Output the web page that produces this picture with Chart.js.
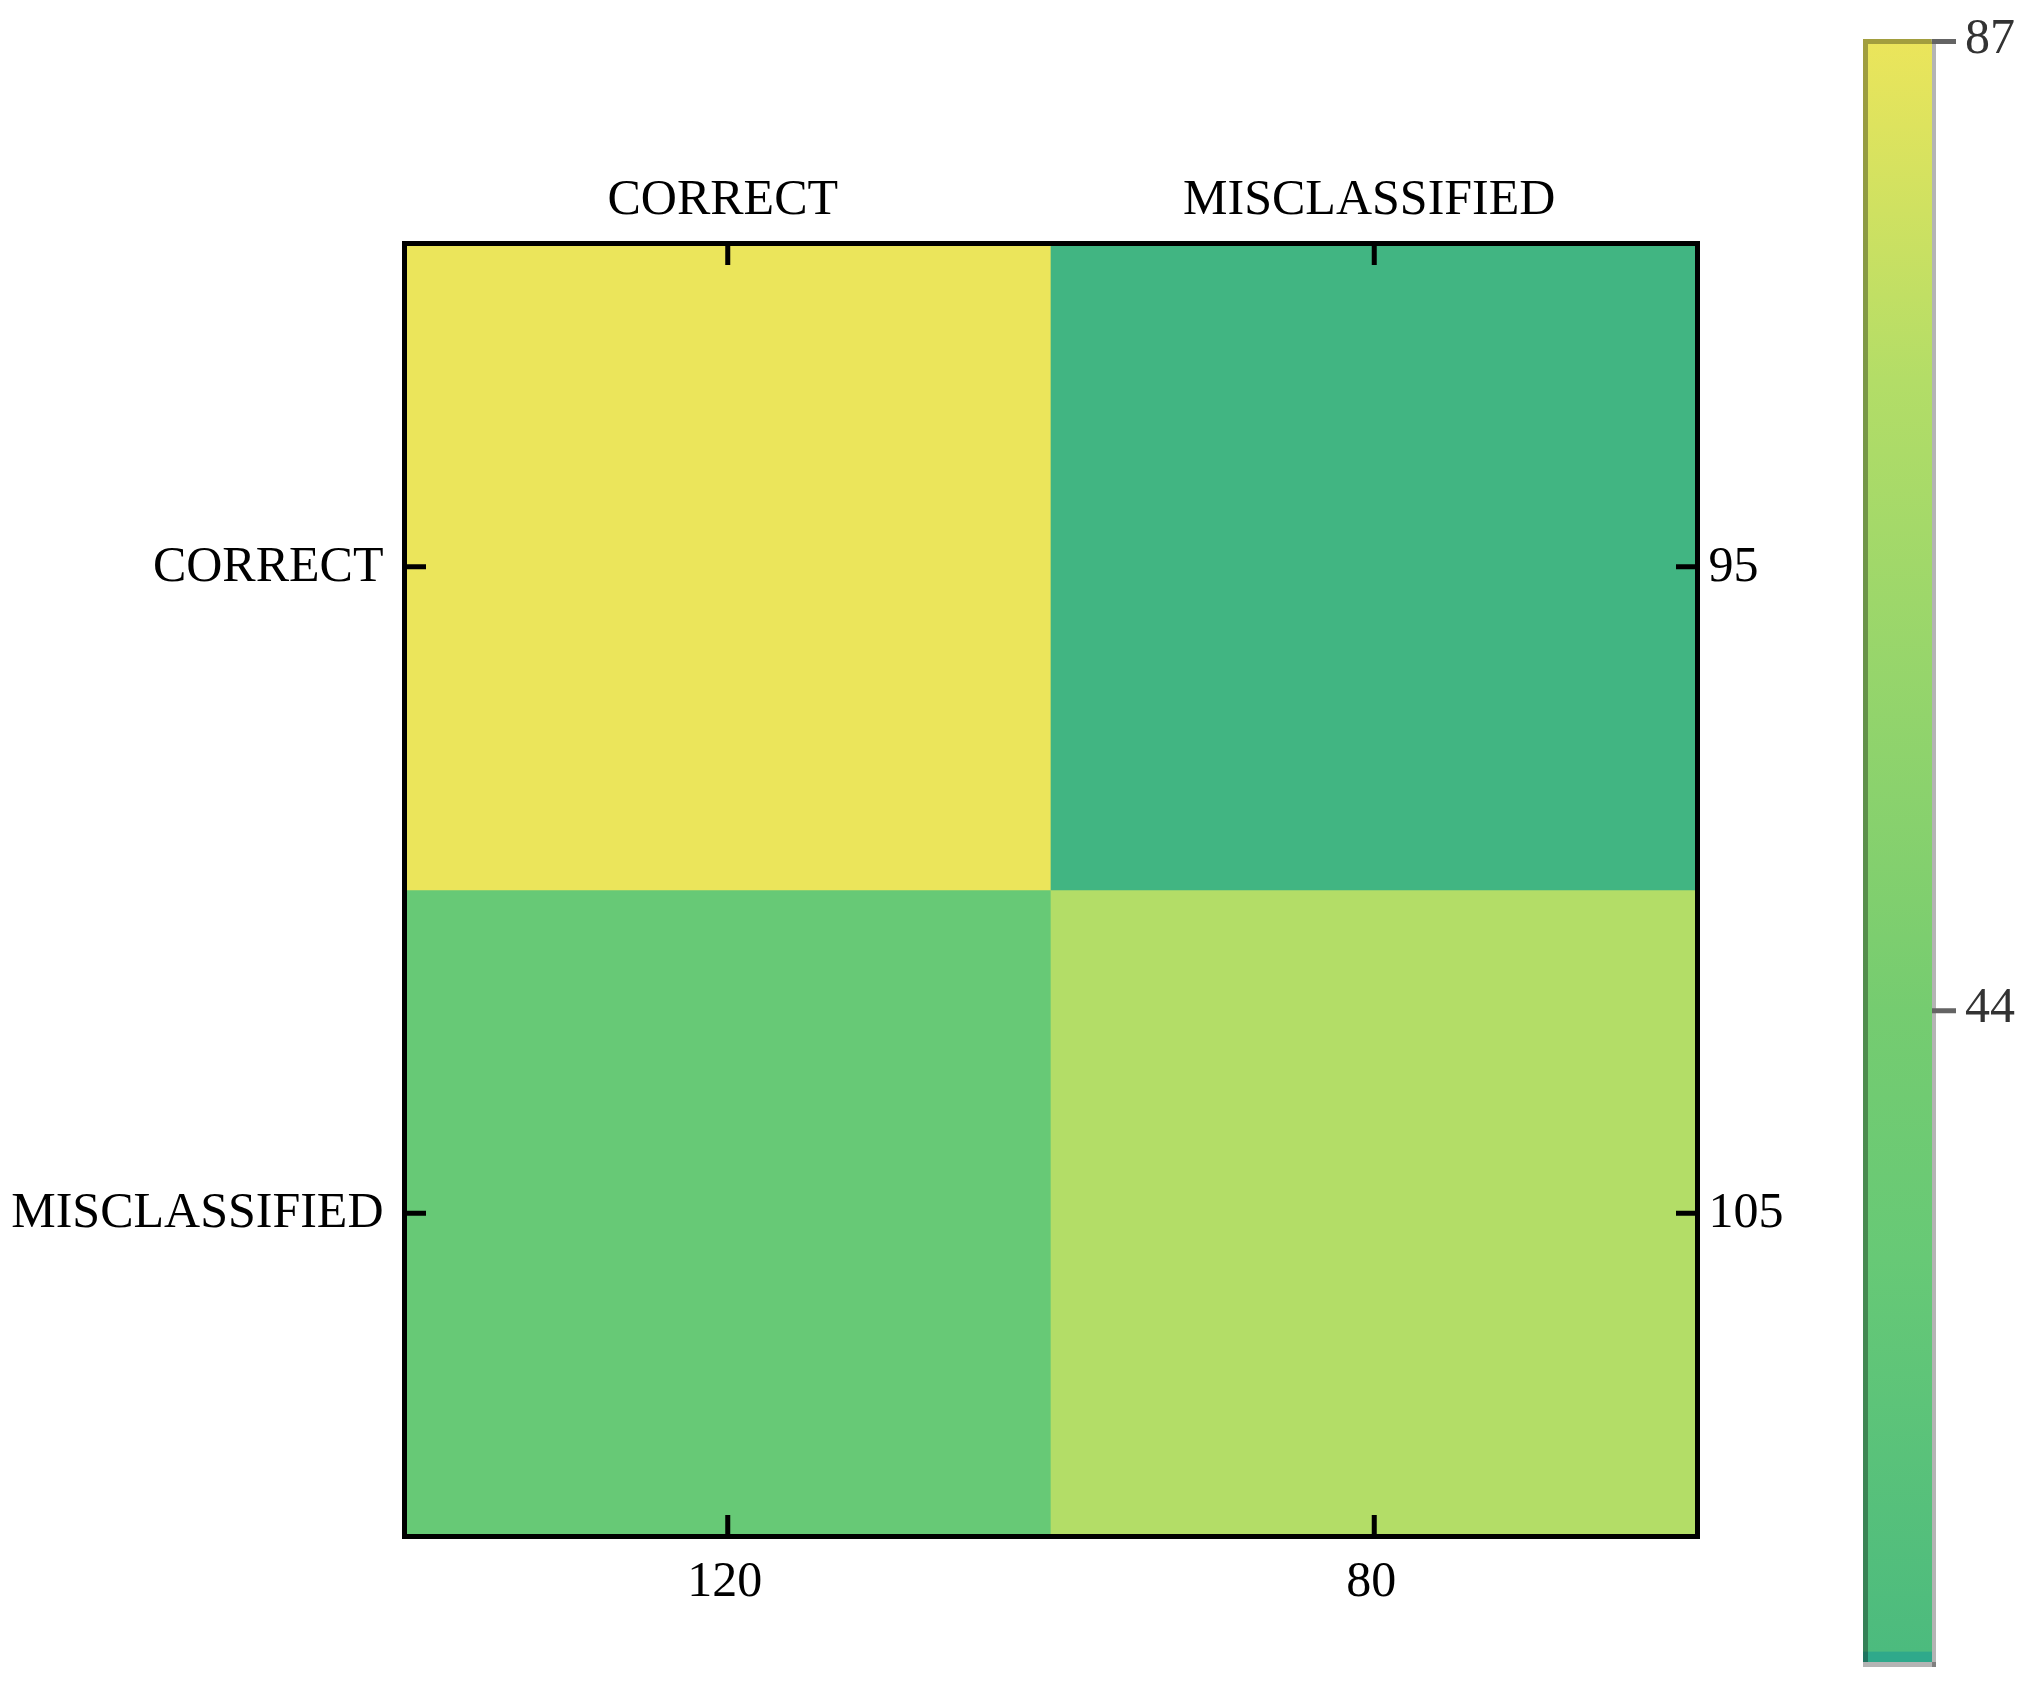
<!DOCTYPE html>
<html>
<head>
<meta charset="utf-8">
<script src="https://cdn.jsdelivr.net/npm/chart.js@4.4.1/dist/chart.umd.min.js"></script>
<style>
html, body { margin: 0; padding: 0; background: #fff; width: 2034px; height: 1692px; overflow: hidden; }
canvas { position: absolute; top: 0; }
</style>
</head>
<body>
<canvas id="heat" width="1840" height="1692" style="left:0;width:1840px;height:1692px"></canvas>
<canvas id="cbar" width="194" height="1692" style="left:1840px;width:194px;height:1692px"></canvas>
<script>
// ---------------- data ----------------
const colLabels = ['CORRECT', 'MISCLASSIFIED'];
const rowLabels = ['CORRECT', 'MISCLASSIFIED'];
const rowCorrectValues = [87, 8];
const rowMisclassifiedValues = [33, 72];
const rowTotals = ['95', '105'];
const colTotals = ['120', '80'];
const colorbarMin = 15;
const colorbarMax = 87;
const colorbarTicks = [44, 87];

// ---------------- style ----------------
const cmapStops = [
  [8, '#41b582'],
  [33, '#67c976'],
  [44, '#75cc70'],
  [72, '#b3dd67'],
  [87, '#ebe55b']
];
const underColor = '#2fa98b';
const FONT = { family: '"Liberation Serif", "Times New Roman", serif', size: 50 };

function hexToRgb(h) {
  const n = parseInt(h.slice(1), 16);
  return [(n >> 16) & 255, (n >> 8) & 255, n & 255];
}
function colorFor(v) {
  if (v <= cmapStops[0][0]) return cmapStops[0][1];
  for (let i = 1; i < cmapStops.length; i++) {
    const [v1, c1] = cmapStops[i];
    const [v0, c0] = cmapStops[i - 1];
    if (v <= v1) {
      const t = (v - v0) / (v1 - v0);
      const a = hexToRgb(c0), b = hexToRgb(c1);
      const m = a.map((x, k) => Math.round(x + (b[k] - x) * t));
      return 'rgb(' + m.join(',') + ')';
    }
  }
  return cmapStops[cmapStops.length - 1][1];
}
function zeroPad(s) { s.paddingTop = 0; s.paddingBottom = 0; s.paddingLeft = 0; s.paddingRight = 0; }

// ---------------- heatmap ----------------
const rows = [rowCorrectValues, rowMisclassifiedValues];
const heatDatasets = rows.map((vals, r) => ({
  label: rowLabels[r],
  data: vals.map(() => [r, r + 1]),
  backgroundColor: vals.map(colorFor),
  borderWidth: 0,
  grouped: false,
  barPercentage: 1,
  categoryPercentage: 1,
  xAxisID: 'x',
  yAxisID: 'y'
}));

const TICK_IN = 21.5;
const framePlugin = {
  id: 'frame',
  afterDraw(chart) {
    const ctx = chart.ctx, ca = chart.chartArea;
    ctx.save();
    ctx.strokeStyle = '#000';
    ctx.lineWidth = 5;
    ctx.lineCap = 'butt';
    ctx.strokeRect(ca.left, ca.top, ca.right - ca.left, ca.bottom - ca.top);
    const xs = chart.scales.x, x2 = chart.scales.x2, ys = chart.scales.y, y2 = chart.scales.y2;
    ctx.beginPath();
    xs.ticks.forEach((t, i) => { const p = xs.getPixelForTick(i); ctx.moveTo(p, ca.top); ctx.lineTo(p, ca.top + TICK_IN); });
    x2.ticks.forEach((t, i) => { const p = x2.getPixelForTick(i); ctx.moveTo(p, ca.bottom); ctx.lineTo(p, ca.bottom - TICK_IN); });
    ys.ticks.forEach((t, i) => { const p = ys.getPixelForTick(i); ctx.moveTo(ca.left, p); ctx.lineTo(ca.left + TICK_IN, p); });
    y2.ticks.forEach((t, i) => { const p = y2.getPixelForTick(i); ctx.moveTo(ca.right, p); ctx.lineTo(ca.right - TICK_IN, p); });
    ctx.stroke();
    ctx.restore();
  }
};

const noGrid = { display: false, drawTicks: false };
const noBorder = { display: false };

new Chart(document.getElementById('heat'), {
  type: 'bar',
  data: { labels: colLabels, datasets: heatDatasets },
  options: {
    responsive: false,
    animation: false,
    devicePixelRatio: 1,
    layout: { padding: 0 },
    plugins: { legend: { display: false }, tooltip: { enabled: false } },
    scales: {
      x: {
        type: 'category', position: 'top', labels: colLabels,
        grid: noGrid, border: noBorder,
        ticks: { font: FONT, color: '#000', padding: 12.5, labelOffset: -5, maxRotation: 0, autoSkip: false },
        afterFit(s) { s.height = 243.5; zeroPad(s); }
      },
      x2: {
        type: 'category', position: 'bottom', labels: colTotals,
        grid: noGrid, border: noBorder,
        ticks: { font: FONT, color: '#000', padding: 16, labelOffset: -3, maxRotation: 0, autoSkip: false },
        afterFit(s) { s.height = 155.5; zeroPad(s); }
      },
      y: {
        type: 'linear', position: 'left', min: 0, max: rowLabels.length, reverse: true,
        grid: noGrid, border: noBorder,
        afterBuildTicks(s) { s.ticks = rowLabels.map((_, i) => ({ value: i + 0.5 })); },
        ticks: { font: FONT, color: '#000', padding: 21, labelOffset: 1, autoSkip: false,
                 callback: (v, i) => rowLabels[i] },
        afterFit(s) { s.width = 404.5; zeroPad(s); }
      },
      y2: {
        type: 'linear', position: 'right', min: 0, max: rowLabels.length, reverse: true,
        grid: noGrid, border: noBorder,
        afterBuildTicks(s) { s.ticks = rowTotals.map((_, i) => ({ value: i + 0.5 })); },
        ticks: { font: FONT, color: '#000', padding: 11, labelOffset: 1, autoSkip: false,
                 callback: (v, i) => rowTotals[i] },
        afterFit(s) { s.width = 142.5; zeroPad(s); }
      }
    }
  },
  plugins: [framePlugin]
});

// ---------------- colorbar ----------------
function makeGradient(chart) {
  const ca = chart.chartArea;
  const ys = chart.scales.y;
  const g = chart.ctx.createLinearGradient(0, ca.bottom, 0, ca.top);
  const span = ca.bottom - ca.top;
  const band = 12.5 / span;
  g.addColorStop(0, underColor);
  g.addColorStop(band, underColor);
  g.addColorStop(Math.min(band + 0.0005, 1), colorFor(ys.getValueForPixel(ca.bottom - 12.5)));
  cmapStops.forEach(([v, c]) => {
    if (v > colorbarMin && v <= colorbarMax) {
      const f = (ca.bottom - ys.getPixelForValue(v)) / span;
      if (f > band) g.addColorStop(Math.min(f, 1), c);
    }
  });
  return g;
}

const cbarPlugin = {
  id: 'cbarFrame',
  afterDraw(chart) {
    const ctx = chart.ctx, ca = chart.chartArea, ys = chart.scales.y;
    const g = makeGradient(chart);
    ctx.save();
    ctx.fillStyle = g;
    ctx.fillRect(ca.left - 2.5, ca.top - 2.5, 5, ca.bottom - ca.top);
    ctx.fillRect(ca.left - 2.5, ca.top - 2.5, ca.right - ca.left, 5);
    ctx.fillStyle = 'rgba(0,0,0,0.31)';
    ctx.fillRect(ca.left - 2.5, ca.top - 2.5, 5, ca.bottom - ca.top);
    ctx.fillRect(ca.left + 2.5, ca.top - 2.5, ca.right - ca.left - 4.5, 5);
    ctx.fillStyle = '#b4b4b4';
    ctx.fillRect(ca.right - 2, ca.top - 2.5, 4, ca.bottom - ca.top);
    ctx.fillRect(ca.left - 2.5, ca.bottom - 2.5, ca.right - ca.left + 0.5, 5);
    ctx.fillStyle = '#7f7f7f';
    ctx.fillRect(ca.right - 2, ca.bottom - 2.5, 4, 5);
    ctx.strokeStyle = '#646464';
    ctx.lineWidth = 5;
    ctx.beginPath();
    colorbarTicks.forEach(v => {
      const p = ys.getPixelForValue(v);
      ctx.moveTo(ca.right - 2, p);
      ctx.lineTo(ca.right + 22, p);
    });
    ctx.stroke();
    ctx.restore();
  }
};

new Chart(document.getElementById('cbar'), {
  type: 'bar',
  data: {
    labels: [''],
    datasets: [{
      data: [[colorbarMin, colorbarMax]],
      backgroundColor: (c) => c.chart.chartArea ? makeGradient(c.chart) : colorFor(colorbarMax),
      borderWidth: 0,
      barPercentage: 1,
      categoryPercentage: 1
    }]
  },
  options: {
    responsive: false,
    animation: false,
    devicePixelRatio: 1,
    layout: { padding: { left: 25.5, top: 41.5, bottom: 27.5, right: 0 } },
    plugins: { legend: { display: false }, tooltip: { enabled: false } },
    scales: {
      x: { display: false },
      y: {
        type: 'linear', position: 'right', min: colorbarMin, max: colorbarMax,
        grid: noGrid, border: noBorder,
        afterBuildTicks(s) { s.ticks = colorbarTicks.map(v => ({ value: v })); },
        ticks: { font: FONT, color: '#333', padding: 31, labelOffset: -1.5, autoSkip: false },
        afterFit(s) { s.width = 100; zeroPad(s); }
      }
    }
  },
  plugins: [cbarPlugin]
});
</script>
</body>
</html>
